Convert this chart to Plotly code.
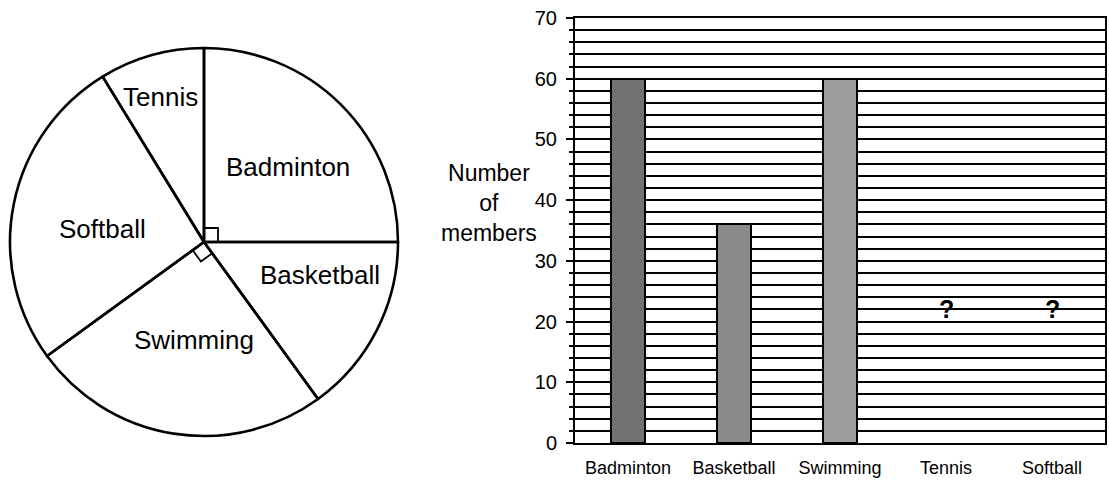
import math
import plotly.graph_objects as go

# ---- data ----
sports = ["Badminton", "Basketball", "Swimming", "Tennis", "Softball"]
bar_members = [60, 36, 60, None, None]          # Tennis and Softball are unknown on the bar chart
unknown_sports = ["Tennis", "Softball"]
unknown_label_y = [22, 22]

pie_sports = ["Badminton", "Basketball", "Swimming", "Softball", "Tennis"]
pie_members = [60, 36, 60, 63, 21]

y_ticks = [0, 10, 20, 30, 40, 50, 60, 70]

# ---- styling ----
W, H = 1109, 483
FONT = "Arial, 'Liberation Sans', Helvetica, sans-serif"
bar_colors = ["#727272", "#8a8a8a", "#9d9d9d", "#9d9d9d", "#9d9d9d"]

# pie placement (pixels -> paper)
pie_cx, pie_cy, pie_r = 204, 242, 194
pie_dom_x = [(pie_cx - pie_r) / W, (pie_cx + pie_r) / W]
pie_dom_y = [1 - (pie_cy + pie_r) / H, 1 - (pie_cy - pie_r) / H]

# bar chart plot area (pixels -> paper)
bx0, bx1, by_top, by_bot = 575, 1105, 18, 443

fig = go.Figure()

# transparent slices so the right-angle marks underneath stay visible
fig.add_trace(go.Pie(
    labels=pie_sports, values=pie_members, sort=False,
    direction="clockwise", rotation=0,
    marker=dict(colors=["rgba(255,255,255,0)"] * len(pie_sports),
                line=dict(color="black", width=2.6)),
    textinfo="none", hoverinfo="label+value",
    domain=dict(x=pie_dom_x, y=pie_dom_y), showlegend=False,
))

# slice boundary angles, clockwise from 12 o'clock
total = sum(pie_members)
bounds = [0.0]
for v in pie_members:
    bounds.append(bounds[-1] + 360.0 * v / total)


def unit(deg):
    a = math.radians(deg)
    return math.sin(a), math.cos(a)


# right-angle marks for the 90-degree slices
s = 14 / pie_r
for i, v in enumerate(pie_members):
    if abs(360.0 * v / total - 90) < 1e-6:
        u1 = unit(bounds[i])
        u2 = unit(bounds[i + 1])
        xs = [s * u1[0], s * (u1[0] + u2[0]), s * u2[0]]
        ys = [s * u1[1], s * (u1[1] + u2[1]), s * u2[1]]
        fig.add_trace(go.Scatter(
            x=xs, y=ys, mode="lines", xaxis="x2", yaxis="y2",
            line=dict(color="black", width=1.8), hoverinfo="skip", showlegend=False,
        ))

# slice labels
label_r = [0.58, 0.62, 0.51, 0.53, 0.78]
label_nudge = [3, -11, -3, -4, -1]
for i, name in enumerate(pie_sports):
    mid = (bounds[i] + bounds[i + 1]) / 2 + label_nudge[i]
    ux, uy = unit(mid)
    fig.add_annotation(
        x=label_r[i] * ux, y=label_r[i] * uy, xref="x2", yref="y2",
        text=name, showarrow=False, font=dict(family=FONT, size=26, color="black"),
    )

# bar chart
fig.add_trace(go.Bar(
    x=sports, y=bar_members, width=0.33,
    marker=dict(color=bar_colors, line=dict(color="black", width=2)),
    showlegend=False, xaxis="x", yaxis="y",
))

for name, yv in zip(unknown_sports, unknown_label_y):
    fig.add_annotation(
        x=name, y=yv, xref="x", yref="y", text="<b>?</b>", showarrow=False,
        font=dict(family=FONT, size=25, color="black"),
    )

fig.add_annotation(
    x=489 / W, y=1 - 203 / H, xref="paper", yref="paper",
    text="Number<br>of<br>members", showarrow=False, align="center",
    font=dict(family=FONT, size=23, color="black"),
)

fig.update_layout(
    width=W, height=H,
    margin=dict(l=0, r=0, t=0, b=0),
    paper_bgcolor="white", plot_bgcolor="white",
    font=dict(family=FONT, color="black"),
    bargap=0,
    xaxis=dict(
        domain=[bx0 / W, bx1 / W], anchor="y", automargin=False,
        showline=True, linecolor="black", linewidth=2, mirror=True,
        ticks="", showgrid=False, tickfont=dict(size=18, color="black"),
        ticklabelstandoff=7, fixedrange=True,
    ),
    yaxis=dict(
        domain=[1 - by_bot / H, 1 - by_top / H], anchor="x", automargin=False,
        range=[0, 70], tickvals=y_ticks,
        showline=True, linecolor="black", linewidth=2, mirror=True,
        showgrid=True, gridcolor="black", gridwidth=1.8, zeroline=False,
        ticks="outside", ticklen=7, tickwidth=1.8, tickcolor="black",
        minor=dict(dtick=2, showgrid=True, gridcolor="black", gridwidth=1.8,
                   ticks="outside", ticklen=4, tickwidth=1.5, tickcolor="black"),
        tickfont=dict(size=20, color="black"), ticklabelstandoff=5, fixedrange=True,
    ),
    xaxis2=dict(domain=pie_dom_x, range=[-1, 1], visible=False, fixedrange=True,
                anchor="y2", automargin=False),
    yaxis2=dict(domain=pie_dom_y, range=[-1, 1], visible=False, fixedrange=True,
                anchor="x2", automargin=False),
)

fig.write_html("out.html")
